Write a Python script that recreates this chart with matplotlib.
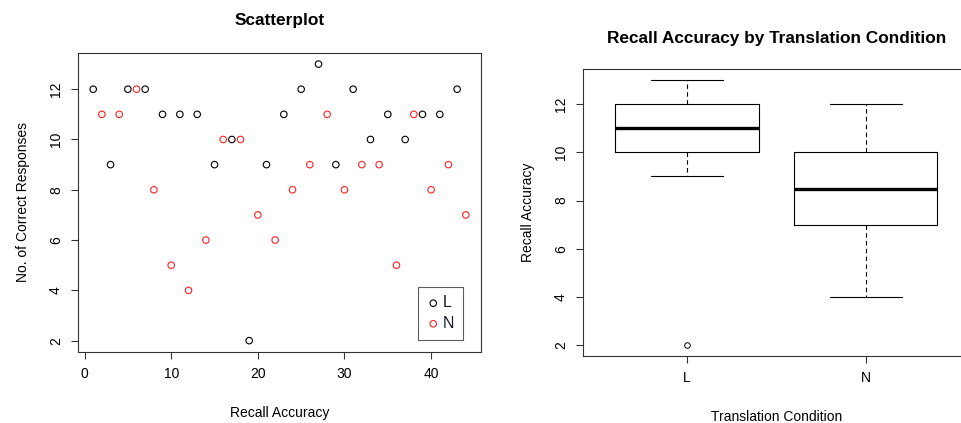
import matplotlib
matplotlib.use("Agg")
import matplotlib.pyplot as plt
import numpy as np

plt.rcParams['font.family'] = ['Liberation Sans', 'DejaVu Sans']

# Data
idx_L = [1, 3, 5, 7, 9, 11, 13, 15, 17, 19, 21, 23, 25, 27, 29, 31, 33, 35, 37, 39, 41, 43]
recall_L = [12, 9, 12, 12, 11, 11, 11, 9, 10, 2, 9, 11, 12, 13, 9, 12, 10, 11, 10, 11, 11, 12]
idx_N = [2, 4, 6, 8, 10, 12, 14, 16, 18, 20, 22, 24, 26, 28, 30, 32, 34, 36, 38, 40, 42, 44]
recall_N = [11, 11, 12, 8, 5, 4, 6, 10, 10, 7, 6, 8, 9, 11, 8, 9, 9, 5, 11, 8, 9, 7]
conditions = ["L", "N"]
x_ticks = [0, 10, 20, 30, 40]
y_ticks = [2, 4, 6, 8, 10, 12]

W, H = 962, 423
fig = plt.figure(figsize=(W / 100, H / 100), dpi=100)

edge = '#333333'
lw = 0.8

def style(ax):
    for s in ax.spines.values():
        s.set_color(edge)
        s.set_linewidth(lw)
    ax.tick_params(axis='both', length=5, width=lw, color=edge, labelsize=10, pad=6)
    for lab in ax.get_yticklabels():
        lab.set_rotation(90)
        lab.set_va('center')

# ---------- Left: scatterplot ----------
l, r, t, b = 78.3, 480.7, 53, 351.7
ax1 = fig.add_axes([l / W, 1 - b / H, (r - l) / W, (b - t) / H])
ax1.scatter(idx_L, recall_L, s=22, facecolors='none', edgecolors='black', linewidths=0.8, label='L')
ax1.scatter(idx_N, recall_N, s=22, facecolors='none', edgecolors='#ff2020', linewidths=0.8, label='N')
ax1.set_xlim(-0.72, 45.72)
ax1.set_ylim(1.56, 13.44)
ax1.set_xticks(x_ticks)
ax1.set_yticks(y_ticks)
style(ax1)
ax1.set_title('Scatterplot', fontsize=12.4, fontweight='bold', pad=20)
ax1.set_xlabel('Recall Accuracy', fontsize=10, labelpad=18)
ax1.set_ylabel('No. of Correct Responses', fontsize=10, labelpad=14)
leg = ax1.legend(loc='lower right', fontsize=11.5, frameon=True, fancybox=False,
                 edgecolor=edge, borderpad=0.55, handletextpad=0.2, handlelength=0.75,
                 labelspacing=0.35, bbox_to_anchor=(0.955, 0.04), borderaxespad=0)
leg.get_frame().set_linewidth(lw)
for txt in leg.get_texts():
    txt.set_color('#1a1a2a')

# ---------- Right: boxplot ----------
l2, r2, t2, b2 = 583.3, 969.5, 69.3, 356
ax2 = fig.add_axes([l2 / W, 1 - b2 / H, (r2 - l2) / W, (b2 - t2) / H])
ax2.boxplot([recall_L, recall_N], positions=[1, 2], widths=0.8, capwidths=0.4,
            whis=1.5, patch_artist=False,
            boxprops=dict(color='black', linewidth=lw),
            whiskerprops=dict(color='black', linewidth=lw, linestyle=(0, (4, 3))),
            capprops=dict(color='black', linewidth=lw),
            medianprops=dict(color='black', linewidth=2.4, solid_capstyle='butt'),
            flierprops=dict(marker='o', markersize=4, markerfacecolor='none',
                            markeredgecolor='black', markeredgewidth=0.7))
ax2.set_xlim(0.42, 2.58)
ax2.set_ylim(1.56, 13.44)
ax2.set_xticks([1, 2])
ax2.set_xticklabels(conditions)
ax2.set_yticks(y_ticks)
style(ax2)
ax2.set_title('Recall Accuracy by Translation Condition', fontsize=12.4, fontweight='bold',
              pad=19, x=0.5)
ax2.set_xlabel('Translation Condition', fontsize=10, labelpad=18)
ax2.set_ylabel('Recall Accuracy', fontsize=10, labelpad=14)

fig.savefig('out.png', dpi=100)
